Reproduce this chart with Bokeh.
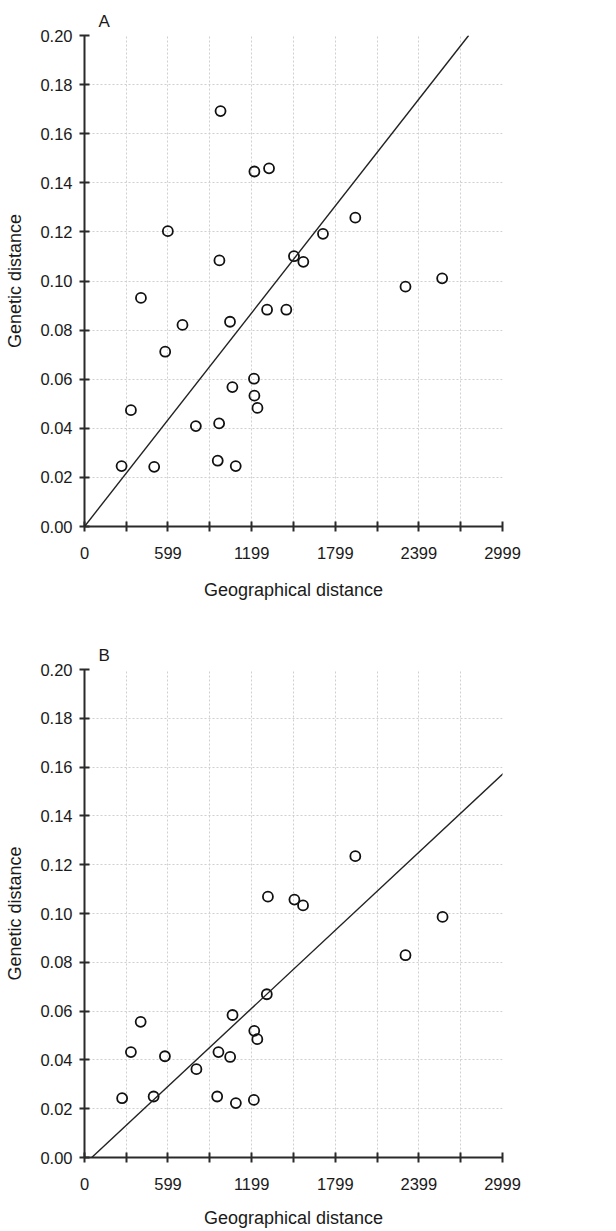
from bokeh.plotting import figure
from bokeh.models import Range1d, FixedTicker, Slope, PrintfTickFormatter
from bokeh.layouts import column
from bokeh.embed import file_html
from bokeh.resources import INLINE

# ---- data ----
a_x = [976, 1219, 1324, 598, 1943, 1711, 968, 1503, 1570, 2303, 2566,
       405, 1310, 1448, 703, 1044, 579, 1216, 1061, 1219, 1241, 333,
       799, 966, 266, 500, 956, 1085]
a_y = [0.1692, 0.1446, 0.1459, 0.1203, 0.1258, 0.1192, 0.1084, 0.1101,
       0.1078, 0.0977, 0.1011, 0.0931, 0.0883, 0.0883, 0.0821, 0.0834,
       0.0712, 0.0602, 0.0568, 0.0533, 0.0483, 0.0474, 0.0409, 0.0420,
       0.0246, 0.0243, 0.0268, 0.0246]
a_slope, a_intercept = 7.257e-5, 0.0

b_x = [1943, 1316, 1506, 1568, 2569, 2303, 1308, 1062, 403, 1218, 1240,
       333, 961, 577, 1045, 803, 270, 496, 952, 1086, 1215]
b_y = [0.1235, 0.1069, 0.1057, 0.1033, 0.0986, 0.0829, 0.0669, 0.0584,
       0.0556, 0.0519, 0.0485, 0.0432, 0.0432, 0.0415, 0.0412, 0.0362,
       0.0243, 0.0250, 0.0250, 0.0223, 0.0236]
b_slope, b_intercept = 5.33e-5, -0.00277

x_major = [0, 599, 1199, 1799, 2399, 2999]
x_minor = [300, 900, 1500, 2100, 2700]
y_ticks = [0.00, 0.02, 0.04, 0.06, 0.08, 0.10, 0.12, 0.14, 0.16, 0.18, 0.20]

FONT = "Liberation Sans"
AXIS_COL = "#2a2a2a"
TEXT_COL = "#1a1a1a"


def panel(label, xs, ys, slope, intercept, height, top, bottom, xlab_standoff):
    p = figure(width=532, height=height, output_backend="svg",
               toolbar_location=None, x_range=Range1d(0, 2999),
               y_range=Range1d(0, 0.2), min_border_left=84,
               min_border_right=30, min_border_top=top,
               min_border_bottom=bottom, title=label)
    p.outline_line_color = None
    p.background_fill_color = "white"
    p.title.text_font = FONT
    p.title.text_font_size = "17px"
    p.title.text_font_style = "normal"
    p.title.text_color = TEXT_COL
    p.title.offset = 14
    p.title.standoff = 9

    p.xaxis.ticker = FixedTicker(ticks=x_major, minor_ticks=x_minor)
    p.yaxis.ticker = FixedTicker(ticks=y_ticks)
    p.yaxis.formatter = PrintfTickFormatter(format="%.2f")

    for ax in (p.xaxis, p.yaxis):
        ax.axis_line_color = AXIS_COL
        ax.axis_line_width = 2
        ax.major_tick_line_color = AXIS_COL
        ax.major_tick_line_width = 2
        ax.major_tick_in = 5
        ax.major_tick_out = 5
        ax.minor_tick_line_color = AXIS_COL
        ax.minor_tick_line_width = 2
        ax.minor_tick_in = 5
        ax.minor_tick_out = 5
        ax.major_label_text_font = FONT
        ax.major_label_text_font_size = "16.5px"
        ax.major_label_text_color = TEXT_COL
        ax.axis_label_text_font = FONT
        ax.axis_label_text_font_size = "18px"
        ax.axis_label_text_font_style = "normal"
        ax.axis_label_text_color = TEXT_COL
    p.xaxis.axis_label = "Geographical distance"
    p.yaxis.axis_label = "Genetic distance"
    p.xaxis.major_label_standoff = 15
    p.xaxis.axis_label_standoff = xlab_standoff
    p.yaxis.major_label_standoff = 7
    p.yaxis.axis_label_standoff = 12

    for g in (p.xgrid, p.ygrid):
        g.grid_line_color = "#cfcfcf"
        g.grid_line_dash = "2 2"
        g.grid_line_width = 1
    p.xgrid.minor_grid_line_color = "#cfcfcf"
    p.xgrid.minor_grid_line_dash = "2 2"
    p.xgrid.minor_grid_line_width = 1

    p.add_layout(Slope(gradient=slope, y_intercept=intercept,
                       line_color="#222222", line_width=1.4))
    p.scatter(xs, ys, marker="circle", size=10, fill_color=None,
              line_color="#111111", line_width=1.8)
    return p


pa = panel("A", a_x, a_y, a_slope, a_intercept, 628, 35, 102, 18)
pb = panel("B", b_x, b_y, b_slope, b_intercept, 603, 41, 74, 15)

layout = column(pa, pb, spacing=0)
open("out.html", "w").write(file_html(layout, INLINE))
